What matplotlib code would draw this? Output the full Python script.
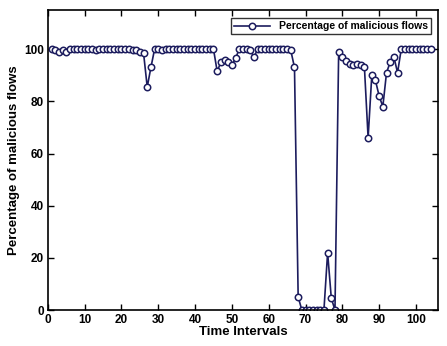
import matplotlib
matplotlib.use("Agg")
import matplotlib.pyplot as plt
import numpy as np

x_intervals = list(range(1, 105))
pct_malicious = [
    100, 99.5, 99, 99.5, 99, 100, 100, 100, 100, 100,   # 1-10
    100, 100, 99.5, 100, 100, 100, 100, 100, 100, 100,  # 11-20
    100, 100, 99.5, 99.5, 99, 98.5, 85.5, 93, 100, 100, # 21-30
    99.5, 100, 100, 100, 100, 100, 100, 100, 100, 100,  # 31-40
    100, 100, 100, 100, 100, 91.5, 95, 96, 95, 94,      # 41-50
    96.5, 100, 100, 100, 99.5, 97, 100, 100, 100, 100,  # 51-60
    100, 100, 100, 100, 100, 99.5, 93, 5, 0, 0,         # 61-70
    0, 0, 0, 0, 0, 22, 4.5, 0, 99, 97,                  # 71-80
    95.5, 94.5, 94, 94.2, 94, 93, 66, 90, 88, 82,       # 81-90
    78, 91, 95, 97, 91, 100, 100, 100, 100, 100,        # 91-100
    100, 100, 100, 100,                                 # 101-104
]
x_ticks = list(range(0, 101, 10))
y_ticks = list(range(0, 101, 20))
series_label = "Percentage of malicious flows"

plt.rcParams['font.family'] = ['Liberation Sans', 'DejaVu Sans']
plt.rcParams['font.weight'] = 'bold'

fig = plt.figure(figsize=(4.47, 3.46), dpi=100)
ax = fig.add_axes([0.107, 0.104, 0.873, 0.867])
color = '#1c1c5e'
ax.plot(x_intervals, pct_malicious, '-o', color=color, linewidth=1.2,
        markersize=4.6, markerfacecolor='white', markeredgecolor=color,
        markeredgewidth=1.1, label=series_label)
ax.set_xlim(0, 106)
ax.set_ylim(0, 115)
ax.set_xticks(x_ticks)
ax.set_yticks(y_ticks)
ax.tick_params(direction='in', top=True, right=True, labelsize=8.5, length=4, width=1, pad=3)
for lab in ax.get_xticklabels() + ax.get_yticklabels():
    lab.set_fontweight('bold')
for s in ax.spines.values():
    s.set_linewidth(1.2)
ax.set_xlabel("Time Intervals", fontsize=9.5, fontweight='bold', labelpad=0)
ax.set_ylabel("Percentage of malicious flows", fontsize=9.5, fontweight='bold', labelpad=3)
leg = ax.legend(loc='upper right', fontsize=7.5, frameon=True, fancybox=False,
                edgecolor='black', borderpad=0.3, handlelength=3.5,
                bbox_to_anchor=(0.995, 0.99))
leg.get_frame().set_linewidth(1.0)
for t in leg.get_texts():
    t.set_fontweight('bold')

fig.savefig("out.png", dpi=100)
